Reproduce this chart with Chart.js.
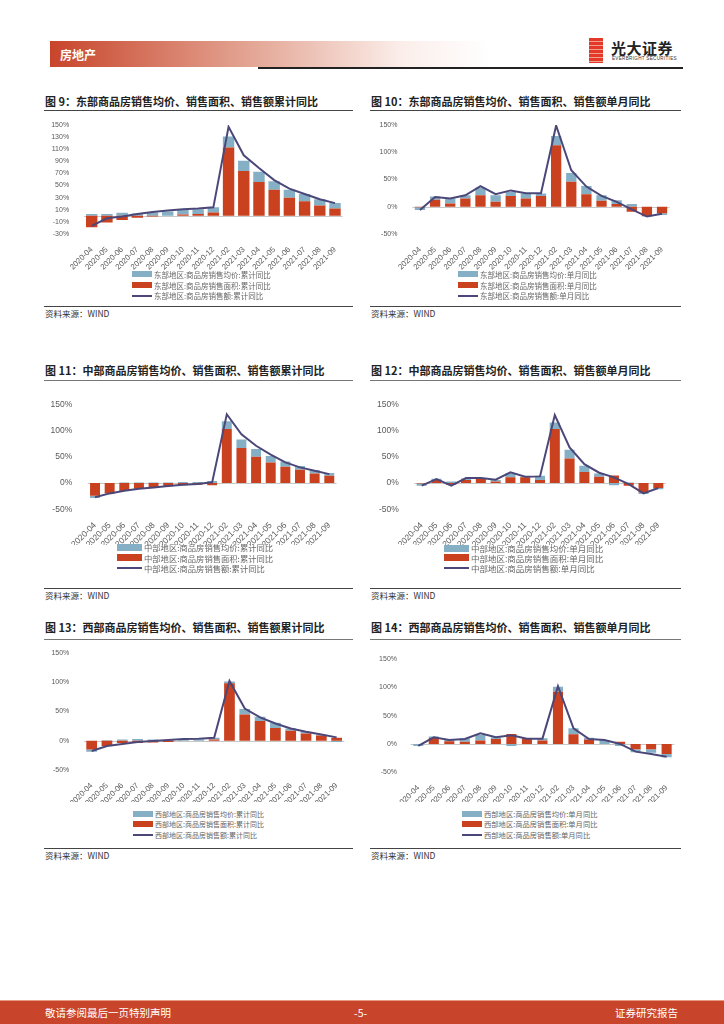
<!DOCTYPE html>
<html lang="zh-CN">
<head>
<meta charset="UTF-8">
<title>房地产 - 区域商品房销售</title>
<script src="https://cdn.jsdelivr.net/npm/chart.js"></script>
<style>
  body { margin: 0; width: 724px; height: 1024px; position: relative; background: #fff; overflow: hidden;
         font-family: "Noto Sans CJK SC", "Noto Sans", sans-serif; }
  .abs { position: absolute; }
  .band { left: 50px; top: 41px; width: 440px; height: 26px;
          background: linear-gradient(to right, #c8452b 0%, #e3a493 45%, #fbeeea 80%, rgba(255,255,255,0) 100%); }
  .band span { position: absolute; left: 10px; top: 5px; color: #fff; font-weight: bold; font-size: 12px; }
  .hline { left: 258px; top: 67px; width: 425px; height: 1.5px; background: #222; }
  .logo-mark { left: 589px; top: 38px; width: 14px; height: 25px;
               background: repeating-linear-gradient(to bottom, #e4392a 0 3px, #f3a08a 3px 4px); }
  .logo-cn { left: 611px; top: 37px; font-size: 15px; font-weight: bold; color: #222; letter-spacing: 0.5px; }
  .logo-en { left: 612px; top: 56px; font-size: 4.6px; color: #333; font-family: "Liberation Sans", sans-serif; letter-spacing: 0.3px; }
  .title { font-size: 11px; font-weight: bold; color: #222; white-space: nowrap; }
  .rule { height: 1px; background: #444; }
  .src { font-size: 8.5px; color: #333; }
  .chartbox { position: absolute; }
  .leg { position: absolute; display: flex; align-items: center; height: 12px; white-space: nowrap; color: #666; }
  .foot { left: 0; top: 1000px; width: 724px; height: 23px; background: #c8452b; border-top: 1px solid #e59a84; }
  .foot span { position: absolute; top: 4px; color: #fff; font-size: 10.5px; }
</style>
</head>
<body>
  <div class="abs band"><span>房地产</span></div>
  <div class="abs hline"></div>
  <div class="abs logo-mark"></div>
  <div class="abs logo-cn">光大证券</div>
  <div class="abs logo-en">EVERBRIGHT SECURITIES</div>

  <div class="abs title" style="left:45px;top:93px">图 9：东部商品房销售均价、销售面积、销售额累计同比</div>
  <div class="abs title" style="left:371px;top:93px">图 10：东部商品房销售均价、销售面积、销售额单月同比</div>
  <div class="abs title" style="left:45px;top:362px">图 11：中部商品房销售均价、销售面积、销售额累计同比</div>
  <div class="abs title" style="left:371px;top:362px">图 12：中部商品房销售均价、销售面积、销售额单月同比</div>
  <div class="abs title" style="left:45px;top:619px">图 13：西部商品房销售均价、销售面积、销售额累计同比</div>
  <div class="abs title" style="left:371px;top:619px">图 14：西部商品房销售均价、销售面积、销售额单月同比</div>

  <div class="abs rule" style="left:44px;top:110px;width:309px"></div>
  <div class="abs rule" style="left:370px;top:110px;width:311px"></div>
  <div class="abs rule" style="left:44px;top:380px;width:309px;background:#777"></div>
  <div class="abs rule" style="left:370px;top:380px;width:311px;background:#777"></div>
  <div class="abs rule" style="left:44px;top:639px;width:309px;background:#777"></div>
  <div class="abs rule" style="left:370px;top:639px;width:311px;background:#777"></div>

  <div class="abs rule" style="left:44px;top:306px;width:309px"></div>
  <div class="abs rule" style="left:370px;top:306px;width:311px"></div>
  <div class="abs rule" style="left:44px;top:588px;width:309px"></div>
  <div class="abs rule" style="left:370px;top:588px;width:311px"></div>
  <div class="abs rule" style="left:44px;top:848px;width:309px"></div>
  <div class="abs rule" style="left:370px;top:848px;width:311px"></div>

  <div class="abs src" style="left:45px;top:307px">资料来源：WIND</div>
  <div class="abs src" style="left:371px;top:307px">资料来源：WIND</div>
  <div class="abs src" style="left:45px;top:589px">资料来源：WIND</div>
  <div class="abs src" style="left:371px;top:589px">资料来源：WIND</div>
  <div class="abs src" style="left:45px;top:849px">资料来源：WIND</div>
  <div class="abs src" style="left:371px;top:849px">资料来源：WIND</div>

  <div class="abs foot">
    <span style="left:45px">敬请参阅最后一页特别声明</span>
    <span style="left:354px">-5-</span>
    <span style="right:46px">证券研究报告</span>
  </div>

<script>
const months = ['2020-04','2020-05','2020-06','2020-07','2020-08','2020-09','2020-10','2020-11','2020-12',
                '2021-02','2021-03','2021-04','2021-05','2021-06','2021-07','2021-08','2021-09'];

// 东部 累计同比 (%)
const eastCumPrice  = [3, 3, 5, 4, 5.5, 7, 8, 8, 8.5, 18, 17, 17, 14, 13, 12, 10.5, 9];
const eastCumArea   = [-19, -11, -7, -3, -1, 0, 2, 3, 5.5, 113, 74, 56, 43, 30, 24, 17, 12];
const eastCumAmount = [-16.5, -4, -1, 3, 6.5, 9, 11, 12, 14, 147, 100, 79, 59, 45, 36, 27.5, 21];

// 东部 单月同比
const eastMonPrice  = [-5, 6, 9, 6, 14, 12, 8, 9.5, 5, 17, 16, 15, 10, 7, 5, -1, -3];
const eastMonArea   = [-1, 13, 6, 15, 21, 9, 19.5, 15, 19.5, 113, 46, 23, 11, 5, -9, -17, -12];
const eastMonAmount = [-6, 18, 15, 21, 38, 23, 30, 25, 25, 149, 67, 37, 20, 9, -5, -18, -13];

// 中部 累计同比
const midCumPrice  = [-4.5, 0, 1, 1, 1, 1, 2, 2, 4, 14.5, 16, 15, 12.5, 10, 7, 7, 5];
const midCumArea   = [-24, -20, -15, -11, -8, -6, -4, -3, -4, 103, 67, 50, 39, 31, 25.4, 18, 14];
const midCumAmount = [-27, -19.7, -14.6, -10.8, -8.3, -5.7, -3.2, -1.9, 1.3, 131, 93, 71, 54, 39.4, 29.8, 23.5, 17];

// 中部 单月同比
const midMonPrice  = [-4, 2.5, 3, 3, 0.5, 3, 7.5, 1, 8, 12.5, 16.5, 12, 6.4, -4, 1, -3, -2.5];
const midMonArea   = [-1, 5.7, -3, 5.7, 7.6, 3, 11, 11, 5.7, 103, 47, 21, 12, 14.6, -5, -18, -9.5];
const midMonAmount = [-5, 7.6, -5, 9.5, 9.5, 6.3, 20.3, 12, 12.7, 129.5, 68, 36, 19.7, 10.8, -1.9, -19.7, -9.5];

// 西部 累计同比
const westCumPrice  = [-4, 1, 2, 3, 2, 1, 2, 2, 3, 3, 9, 7.5, 9, 4, 3, 1, -2];
const westCumArea   = [-15, -9, -4, -4, -3, -2, 0, 0, 2, 98, 45, 33.5, 21.6, 17, 12.5, 9, 5];
const westCumAmount = [-17.6, -9.1, -5.7, -2.3, -0.6, 1.1, 2.8, 3.4, 5.1, 102, 55, 40, 29.5, 21, 15.3, 10.8, 5.7];

// 西部 单月同比
const westMonPrice  = [-3.5, 2.4, 3.5, 6, 10, 3, -3.5, 1.5, 4, 9, 10.6, 3, 7, -3.5, -5.3, -5.9, -5.9];
const westMonArea   = [0, 10.6, 4.7, 4, 6, 8.8, 17.6, 9, 6, 92, 17, 8, 0, 4, -9.4, -9.4, -17.6];
const westMonAmount = [-3.5, 11.8, 7, 8.8, 18.8, 11.8, 15.3, 9.4, 9.4, 102, 27.6, 8.8, 7, 0, -13.5, -17.6, -22.4];

const ticksFig9 = [-30, -10, 10, 30, 50, 70, 90, 110, 130, 150];
const ticksStd  = [-50, 0, 50, 100, 150];

const BLUE = '#84afc5', RED = '#c9411f', LINE = '#4b4879';

// horizontal line at 0
const zeroLine = {
  id: 'zeroLine',
  beforeDatasetsDraw(chart) {
    const { ctx, chartArea, scales } = chart;
    const y = Math.round(scales.y.getPixelForValue(0)) + 0.5;
    ctx.save();
    ctx.strokeStyle = '#c8c8c8';
    ctx.lineWidth = 1;
    ctx.beginPath();
    ctx.moveTo(chartArea.left, y);
    ctx.lineTo(chartArea.right, y);
    ctx.stroke();
    ctx.restore();
  }
};

// g: canvas box + plot area in page coords
function makeChart(prefix, sfx, price, area, amount, tickVals, g) {
  const box = document.createElement('div');
  box.className = 'chartbox';
  Object.assign(box.style, { left: g.cl + 'px', top: g.ct + 'px', width: g.cw + 'px', height: g.ch + 'px' });
  const cv = document.createElement('canvas');
  box.appendChild(cv);
  document.body.appendChild(box);

  const names = [
    prefix + ':商品房销售均价:' + sfx,
    prefix + ':商品房销售面积:' + sfx,
    prefix + ':商品房销售额:' + sfx
  ];

  new Chart(cv, {
    data: {
      labels: months,
      datasets: [
        { type: 'line', label: names[2], data: amount, borderColor: LINE, borderWidth: 2,
          pointRadius: 0, tension: 0, stack: 'line', order: 0 },
        { type: 'bar', label: names[1], data: area, backgroundColor: RED, stack: 'bars', order: 1,
          barPercentage: g.bp, categoryPercentage: 1 },
        { type: 'bar', label: names[0], data: price, backgroundColor: BLUE, stack: 'bars', order: 1,
          barPercentage: g.bp, categoryPercentage: 1 }
      ]
    },
    options: {
      responsive: true,
      maintainAspectRatio: false,
      animation: false,
      layout: { padding: { left: 0, top: g.pt - g.ct, right: g.cl + g.cw - g.pr, bottom: 0 } },
      plugins: { legend: { display: false }, tooltip: { enabled: false } },
      scales: {
        x: {
          stacked: true,
          grid: { display: false },
          border: { display: false },
          ticks: { color: '#595959', font: { family: 'Liberation Sans', size: g.xf },
                   minRotation: 45, maxRotation: 45, autoSkip: false, padding: 3 },
          afterFit(s) { s.height = g.ct + g.ch - g.pb; }
        },
        y: {
          stacked: true,
          min: tickVals[0],
          max: tickVals[tickVals.length - 1],
          grid: { display: false },
          border: { display: false },
          ticks: { color: '#595959', font: { family: 'Liberation Sans', size: g.yf }, padding: g.yp,
                   callback: v => v + '%' },
          afterBuildTicks(s) { s.ticks = tickVals.map(v => ({ value: v })); },
          afterFit(s) { s.width = g.pl - g.cl; }
        }
      }
    },
    plugins: [zeroLine]
  });

  // legend: 均价, 面积, 销售额
  const swatches = [
    { c: BLUE, h: g.lh }, { c: RED, h: g.lh }, { c: LINE, h: 2 }
  ];
  names.forEach((n, i) => {
    const row = document.createElement('div');
    row.className = 'leg';
    row.style.left = g.lx + 'px';
    row.style.top = (g.ly[i] - 6) + 'px';
    row.style.fontSize = g.lf + 'px';
    const sw = document.createElement('span');
    Object.assign(sw.style, { display: 'inline-block', width: g.lw + 'px', height: swatches[i].h + 'px',
                              background: swatches[i].c, marginRight: '2px' });
    row.appendChild(sw);
    row.appendChild(document.createTextNode(n));
    document.body.appendChild(row);
  });
}

makeChart('东部地区', '累计同比', eastCumPrice, eastCumArea, eastCumAmount, ticksFig9,
  { cl: 44, ct: 113, cw: 312, ch: 157, pl: 84.1, pr: 342.6, pt: 125, pb: 234, bp: 0.75, xf: 7.8, yf: 7, yp: 7,
    lx: 132, ly: [274.3, 285, 295.7], lw: 20, lh: 6, lf: 7.5 });
makeChart('东部地区', '单月同比', eastMonPrice, eastMonArea, eastMonAmount, ticksStd,
  { cl: 370, ct: 113, cw: 312, ch: 157, pl: 412.4, pr: 669.6, pt: 125, pb: 234, bp: 0.68, xf: 7.8, yf: 7, yp: 7,
    lx: 458, ly: [274.3, 285, 295.7], lw: 20, lh: 6, lf: 7.5 });
makeChart('中部地区', '累计同比', midCumPrice, midCumArea, midCumAmount, ticksStd,
  { cl: 44, ct: 382, cw: 312, ch: 163, pl: 87.7, pr: 336.6, pt: 404.3, pb: 509.3, bp: 0.68, xf: 8.5, yf: 8.5, yp: 7.5,
    lx: 117, ly: [547.3, 557.7, 567.7], lw: 25, lh: 7, lf: 8.3 });
makeChart('中部地区', '单月同比', midMonPrice, midMonArea, midMonAmount, ticksStd,
  { cl: 370, ct: 382, cw: 312, ch: 163, pl: 414.3, pr: 665.7, pt: 404.3, pb: 509.3, bp: 0.68, xf: 8.5, yf: 8.5, yp: 7.5,
    lx: 444, ly: [548, 557.7, 567.7], lw: 25, lh: 7, lf: 8.5 });
makeChart('西部地区', '累计同比', westCumPrice, westCumArea, westCumAmount, ticksStd,
  { cl: 44, ct: 642, cw: 312, ch: 160, pl: 84, pr: 344.3, pt: 652.7, pb: 770, bp: 0.7, xf: 7.8, yf: 7, yp: 6.7,
    lx: 133, ly: [814, 824, 835], lw: 20, lh: 6, lf: 7 });
makeChart('西部地区', '单月同比', westMonPrice, westMonArea, westMonAmount, ticksStd,
  { cl: 370, ct: 642, cw: 312, ch: 160, pl: 410.5, pr: 674.4, pt: 659, pb: 772.3, bp: 0.65, xf: 7.8, yf: 7, yp: 5.5,
    lx: 462, ly: [814, 824, 835], lw: 20, lh: 6, lf: 7.3 });
</script>
</body>
</html>
